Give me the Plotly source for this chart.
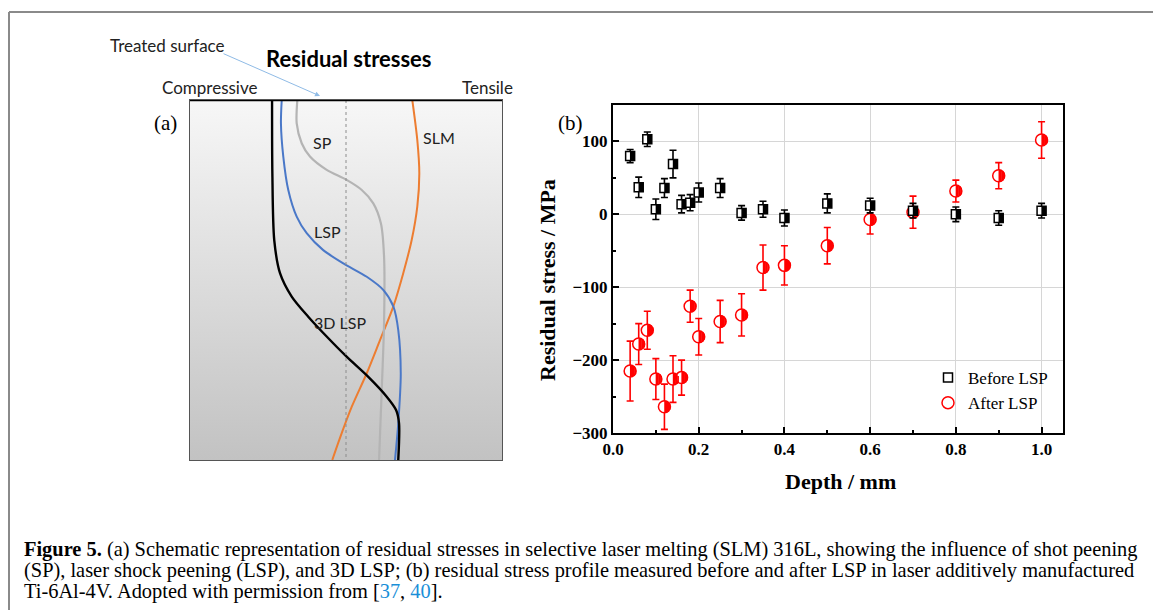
import base64
import plotly.graph_objects as go

W, H = 1153, 610

# ---- (b) residual stress profile, Ti-6Al-4V ----
depth_before = [0.04, 0.06, 0.08, 0.10, 0.12, 0.14, 0.16, 0.18, 0.20, 0.25,
                0.30, 0.35, 0.40, 0.50, 0.60, 0.70, 0.80, 0.90, 1.00]
stress_before = [80, 37, 103, 7, 36, 69, 14, 16, 30, 36,
                 2, 7, -5, 15, 12, 5, 0, -5, 5]
err_before = [9, 14, 10, 14, 13, 19, 12, 11, 13, 13,
              10, 11, 11, 13, 10, 10, 10, 10, 10]

depth_after = [0.04, 0.06, 0.08, 0.10, 0.12, 0.14, 0.16, 0.18, 0.20, 0.25,
               0.30, 0.35, 0.40, 0.50, 0.60, 0.70, 0.80, 0.90, 1.00]
stress_after = [-215, -178, -159, -226, -264, -226, -224, -126, -168, -147,
                -138, -73, -70, -43, -7, 3, 32, 53, 102]
err_after = [41, 28, 26, 28, 31, 32, 24, 22, 25, 29,
             29, 31, 27, 25, 20, 22, 15, 18, 25]

x_ticks = [0.0, 0.2, 0.4, 0.6, 0.8, 1.0]
y_ticks = [-300, -200, -100, 0, 100]

# ---- (a) schematic profiles: normalised stress (-1 compressive .. 1 tensile) vs normalised depth ----
slm_s = [0.425, 0.457, 0.470, 0.457, 0.421, 0.367, 0.303, 0.218, 0.133, 0.037, -0.043, -0.088]
slm_d = [0.0, 0.111, 0.204, 0.296, 0.389, 0.481, 0.574, 0.667, 0.759, 0.852, 0.944, 1.0]

sp_s = [-0.312, -0.316, -0.284, -0.231, -0.124, 0.004, 0.101, 0.175, 0.224, 0.244, 0.244, 0.229, 0.212]
sp_d = [0.0, 0.065, 0.120, 0.157, 0.194, 0.222, 0.250, 0.287, 0.343, 0.435, 0.620, 0.806, 1.0]

lsp_s = [-0.412, -0.417, -0.402, -0.370, -0.316, -0.252, -0.146, -0.017, 0.133, 0.240, 0.304,
         0.335, 0.351, 0.335, 0.314]
lsp_d = [0.0, 0.065, 0.157, 0.250, 0.324, 0.370, 0.417, 0.454, 0.491, 0.528, 0.574,
         0.639, 0.759, 0.898, 1.0]

lsp3d_s = [-0.474, -0.472, -0.460, -0.423, -0.348, -0.242, -0.124, 0.004, 0.143, 0.261,
           0.321, 0.340, 0.335]
lsp3d_d = [0.0, 0.204, 0.389, 0.481, 0.546, 0.602, 0.657, 0.713, 0.769, 0.824,
           0.861, 0.898, 1.0]

# ---- page geometry (pixels) ----
A_L, A_R, A_T, A_B = 190, 502, 100, 460
B_L, B_R, B_T, B_B = 613, 1063, 105, 433
X_RANGE = [0, 1.05]
Y_RANGE = [-300, 150]
PX_PER_X = (B_R - B_L) / (X_RANGE[1] - X_RANGE[0])


def px(x):
    return x / W


def py(y):
    return 1 - y / H


SERIF = "Liberation Serif"
SANS = "Lato"

fig = go.Figure()

# schematic curves
for s, d, col, w in [(slm_s, slm_d, "#ed7d31", 2),
                     (sp_s, sp_d, "#b4b4b4", 2.2),
                     (lsp_s, lsp_d, "#4a78c8", 2),
                     (lsp3d_s, lsp3d_d, "#000000", 2.4)]:
    fig.add_trace(go.Scatter(x=s, y=d, xaxis="x2", yaxis="y2", mode="lines",
                             line=dict(color=col, width=w, shape="spline", smoothing=0.8),
                             showlegend=False, hoverinfo="skip"))

# dotted zero-stress line
fig.add_trace(go.Scatter(x=[0, 0], y=[0, 1], xaxis="x2", yaxis="y2", mode="lines",
                         line=dict(color="#8c8c8c", width=1, dash="dot"),
                         showlegend=False, hoverinfo="skip"))


def half_fill(xs, ys, color, size, round_marker):
    """Fill the right half of a marker with vertical strokes."""
    out = []
    r = size / 2.0
    bands = [(0.0, 0.45), (0.45, 0.75), (0.75, 0.95)] if round_marker else [(0.0, 1.0)]
    for a, b in bands:
        mid = (a + b) / 2.0
        width = (b - a) * r + 0.4
        half_h = r * (1 - mid ** 2) ** 0.5 if round_marker else r
        dx = mid * r / PX_PER_X
        out.append(go.Scatter(
            x=[x + dx for x in xs], y=ys, mode="markers",
            marker=dict(symbol="line-ns", size=2 * half_h / 1.4, color=color,
                        line=dict(color=color, width=width)),
            showlegend=False, hoverinfo="skip"))
    return out


# After LSP
fig.add_trace(go.Scatter(
    x=depth_after, y=stress_after, mode="markers", name="After LSP",
    marker=dict(symbol="circle", size=12, color="white", line=dict(color="#ff0000", width=1.5)),
    error_y=dict(type="data", array=err_after, color="#ff0000", thickness=1.6, width=3.5)))
for t in half_fill(depth_after, stress_after, "#ff0000", 12, True):
    fig.add_trace(t)

# Before LSP
fig.add_trace(go.Scatter(
    x=depth_before, y=stress_before, mode="markers", name="Before LSP",
    marker=dict(symbol="square", size=9, color="white", line=dict(color="#000000", width=1.5)),
    error_y=dict(type="data", array=err_before, color="#000000", thickness=1.6, width=3.5)))
for t in half_fill(depth_before, stress_before, "#000000", 9, False):
    fig.add_trace(t)

tick_font = dict(family=SERIF, size=17, color="black", weight="bold")

fig.update_layout(
    width=W, height=H, autosize=False,
    margin=dict(l=0, r=0, t=0, b=0, pad=0, autoexpand=False),
    paper_bgcolor="white",
    plot_bgcolor="rgba(0,0,0,0)",
    showlegend=True,
    legend=dict(x=px(928), y=py(360), xanchor="left", yanchor="top",
                font=dict(family=SERIF, size=17, color="black"),
                bgcolor="rgba(0,0,0,0)", traceorder="reversed", tracegroupgap=0),
    xaxis=dict(domain=[px(B_L), px(B_R)], range=X_RANGE, anchor="y", automargin=False,
               tickvals=x_ticks, ticktext=[f"{v:.1f}" for v in x_ticks],
               ticks="inside", ticklen=6, tickwidth=1.5, tickcolor="black",
               showline=True, linewidth=2, linecolor="black", mirror=True,
               showgrid=True, gridcolor="#d6d6d6", gridwidth=1, zeroline=False,
               minor=dict(dtick=0.1, tick0=0, ticks="inside", ticklen=3, tickcolor="black",
                          showgrid=False),
               tickfont=tick_font),
    yaxis=dict(domain=[py(B_B), py(B_T)], range=Y_RANGE, anchor="x", automargin=False,
               tickvals=y_ticks, ticks="inside", ticklen=6, tickwidth=1.5, tickcolor="black",
               showline=True, linewidth=2, linecolor="black", mirror=True,
               showgrid=True, gridcolor="#d6d6d6", gridwidth=1, zeroline=False,
               minor=dict(dtick=50, tick0=0, ticks="inside", ticklen=3, tickcolor="black",
                          showgrid=False),
               tickfont=tick_font),
    xaxis2=dict(domain=[px(A_L), px(A_R)], range=[-1, 1], anchor="y2", automargin=False,
                showgrid=False, zeroline=False, showticklabels=False, ticks="",
                showline=True, linewidth=1, linecolor="#555555", mirror=True),
    yaxis2=dict(domain=[py(A_B), py(A_T)], range=[1, 0], anchor="x2", automargin=False,
                showgrid=False, zeroline=False, showticklabels=False, ticks="",
                showline=True, linewidth=1, linecolor="#555555", mirror=True),
)

# grey gradient behind the schematic
svg = ('<svg xmlns="http://www.w3.org/2000/svg" width="100" height="100" preserveAspectRatio="none">'
       '<defs><linearGradient id="g" x1="0" y1="0" x2="0" y2="1">'
       '<stop offset="0" stop-color="#f7f7f7"/><stop offset="1" stop-color="#c2c2c2"/>'
       '</linearGradient></defs><rect width="100" height="100" fill="url(#g)"/></svg>')
fig.add_layout_image(dict(
    source="data:image/svg+xml;base64," + base64.b64encode(svg.encode()).decode(),
    xref="paper", yref="paper", x=px(A_L), y=py(A_T), sizex=(A_R - A_L) / W, sizey=(A_B - A_T) / H,
    xanchor="left", yanchor="top", sizing="stretch", layer="below"))

# treated surface (thick top edge)
fig.add_shape(type="line", xref="x2", yref="y2", x0=-1, x1=1, y0=0, y1=0,
              line=dict(color="black", width=2.5))

# outer frame
fig.add_shape(type="line", xref="paper", yref="paper", x0=px(9), x1=1, y0=py(12), y1=py(12),
              line=dict(color="#8a8a8a", width=2))
fig.add_shape(type="line", xref="paper", yref="paper", x0=px(9), x1=px(9), y0=py(12), y1=0,
              line=dict(color="#8a8a8a", width=2))


def note(text, x, y, size, family=SANS, color="#222222", xanchor="center", yanchor="middle",
         weight="normal", angle=0):
    fig.add_annotation(text=text, x=px(x), y=py(y), xref="paper", yref="paper", showarrow=False,
                       xanchor=xanchor, yanchor=yanchor, textangle=angle,
                       font=dict(family=family, size=size, color=color, weight=weight))


# panel (a) labels
note("Treated surface", 108, 46, 17, xanchor="left")
note("Residual stresses", 349, 58, 22, color="black", weight="bold")
note("Compressive", 160, 88, 17, xanchor="left")
note("Tensile", 515, 88, 17, xanchor="right")
note("(a)", 165, 123, 21, family=SERIF, color="black")
note("SP", 322, 142, 16)
note("SLM", 439, 138, 16)
note("LSP", 327, 232, 16)
note("3D LSP", 340, 322, 16)
fig.add_annotation(x=px(320), y=py(96), xref="paper", yref="paper", text="",
                   showarrow=True, ax=-98, ay=-43, arrowhead=2, arrowsize=1,
                   arrowwidth=1, arrowcolor="#8fbbe6")

# panel (b) labels
note("(b)", 570, 123, 21, family=SERIF, color="black")
note("Residual stress / MPa", 547, 280, 22, family=SERIF, color="black", weight="bold", angle=-90)
note("Depth / mm", 840, 482, 22, family=SERIF, color="black", weight="bold")

# caption
ref = '<span style="color:#1a8fd8">{}</span>'
caption = [
    "<b>Figure 5.</b> (a) Schematic representation of residual stresses in selective laser melting "
    "(SLM) 316L, showing the influence of shot peening",
    "(SP), laser shock peening (LSP), and 3D LSP; (b) residual stress profile measured before and "
    "after LSP in laser additively manufactured",
    "Ti-6Al-4V. Adopted with permission from [" + ref.format("37") + ", " + ref.format("40") + "].",
]
for i, line in enumerate(caption):
    note(line, 22, 549 + 21 * i, 20.4, family=SERIF, color="black", xanchor="left")

fig.write_html("out.html", config={"responsive": False})
